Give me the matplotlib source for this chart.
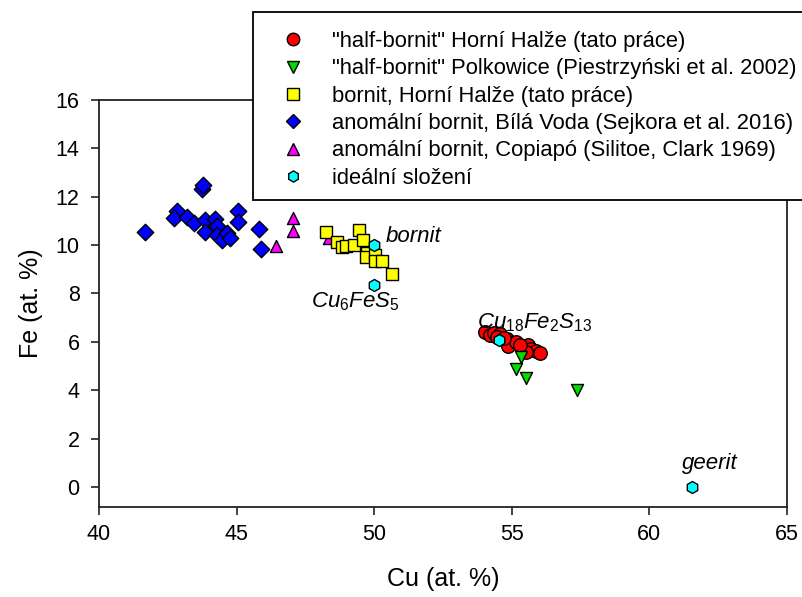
import matplotlib
matplotlib.use("Agg")
import matplotlib.pyplot as plt
from matplotlib.patches import Rectangle
from matplotlib.lines import Line2D

plt.rcParams['font.family'] = ['Liberation Sans', 'DejaVu Sans']
plt.rcParams['mathtext.fontset'] = 'custom'
plt.rcParams['mathtext.it'] = 'Liberation Sans:italic'
plt.rcParams['mathtext.rm'] = 'Liberation Sans'

# "half-bornit" Horní Halže (this work)
red_cu = [54.03, 54.21, 54.35, 54.57, 54.45, 54.81, 54.99, 54.87, 55.15, 55.42, 55.60, 55.69, 55.88, 56.03, 55.52, 55.30, 54.70]
red_fe = [6.40, 6.29, 6.36, 6.32, 6.20, 6.11, 5.94, 5.81, 5.99, 5.77, 5.85, 5.70, 5.62, 5.53, 5.60, 5.85, 6.15]

# "half-bornit" Polkowice
green_cu = [55.32, 55.15, 55.50, 57.36]
green_fe = [5.36, 4.88, 4.52, 3.99]

# bornit, Horní Halže
yel_cu = [48.25, 48.64, 48.82, 48.98, 49.28, 49.45, 49.58, 49.73, 49.69, 50.03, 50.03, 50.27, 50.64]
yel_fe = [10.53, 10.12, 9.94, 9.97, 10.01, 10.63, 10.21, 9.66, 9.50, 9.57, 9.36, 9.36, 8.79]

# anomální bornit, Bílá Voda
blue_cu = [41.67, 43.73, 43.79, 42.82, 42.73, 43.21, 43.46, 43.85, 44.22, 43.85, 44.28, 44.28, 44.46, 44.64, 44.76, 45.04, 45.04, 45.80, 45.88]
blue_fe = [10.56, 12.31, 12.49, 11.42, 11.11, 11.18, 10.90, 11.04, 11.07, 10.56, 10.77, 10.42, 10.21, 10.52, 10.29, 11.42, 10.94, 10.67, 9.84]

# anomální bornit, Copiapó
mag_cu = [47.04, 47.04, 46.42, 48.37]
mag_fe = [11.11, 10.60, 9.96, 10.31]

# ideální složení
cyan_cu = [50.00, 50.00, 54.55, 61.54]
cyan_fe = [10.00, 8.33, 6.06, 0.00]

labels = ['"half-bornit" Horní Halže (tato práce)',
          '"half-bornit" Polkowice (Piestrzyński et al. 2002)',
          'bornit, Horní Halže (tato práce)',
          'anomální bornit, Bílá Voda (Sejkora et al. 2016)',
          'anomální bornit, Copiapó (Silitoe, Clark 1969)',
          'ideální složení']

W, H = 803, 597
fig = plt.figure(figsize=(W / 100, H / 100), dpi=100)
ax = fig.add_axes([99 / W, 1 - 507 / H, (787 - 99) / W, (507 - 100) / H])

ax.scatter(blue_cu, blue_fe, marker='D', s=70, c='#0000ff', edgecolors='black', linewidths=1, zorder=3)
ax.scatter(mag_cu, mag_fe, marker='^', s=75, c='#ff00ff', edgecolors='black', linewidths=1, zorder=3)
ax.scatter(yel_cu, yel_fe, marker='s', s=75, c='#ffff00', edgecolors='black', linewidths=1, zorder=3)
ax.scatter(red_cu, red_fe, marker='o', s=95, c='#ff0000', edgecolors='black', linewidths=1, zorder=3)
ax.scatter(green_cu, green_fe, marker='v', s=75, c='#00dd00', edgecolors='black', linewidths=1, zorder=3)
ax.scatter(cyan_cu, cyan_fe, marker='h', s=75, c='#00ffff', edgecolors='black', linewidths=1, zorder=4)

ax.set_xlim(40, 65)
ax.set_ylim(-0.83, 16)
ax.set_xticks([40, 45, 50, 55, 60, 65])
ax.set_yticks([0, 2, 4, 6, 8, 10, 12, 14, 16])
ax.tick_params(direction='out', length=6, width=1.2, labelsize=15.5, color='#222222')
ax.tick_params(axis='x', pad=6)
ax.tick_params(axis='y', pad=8)
for sp in ax.spines.values():
    sp.set_linewidth(1.3)
    sp.set_color('#222222')
ax.set_xlabel('Cu (at. %)', fontsize=18, labelpad=16)
ax.set_ylabel('Fe (at. %)', fontsize=18, labelpad=9)

tfs = 16
ax.text(50.4, 10.35, 'bornit', fontsize=tfs, style='italic', va='center', ha='left')
ax.text(49.3, 7.65, r'$\mathit{Cu_6FeS_5}$', fontsize=tfs, va='center', ha='center')
ax.text(55.84, 6.8, r'$\mathit{Cu_{18}Fe_2S_{13}}$', fontsize=tfs, va='center', ha='center')
ax.text(62.2, 0.95, 'geerit', fontsize=tfs, style='italic', va='center', ha='center')

# legend frame
fig.patches.append(Rectangle((253 / W, 1 - 200 / H), (W + 20 - 253) / W, (200 - 12) / H,
                             transform=fig.transFigure, facecolor='white', edgecolor='black',
                             linewidth=1.3, zorder=5))
handles = [
    Line2D([], [], ls='none', marker='o', markersize=9, mfc='#ff0000', mec='black', mew=1),
    Line2D([], [], ls='none', marker='v', markersize=8, mfc='#00dd00', mec='black', mew=1),
    Line2D([], [], ls='none', marker='s', markersize=8, mfc='#ffff00', mec='black', mew=1),
    Line2D([], [], ls='none', marker='D', markersize=7.5, mfc='#0000ff', mec='black', mew=1),
    Line2D([], [], ls='none', marker='^', markersize=8, mfc='#ff00ff', mec='black', mew=1),
    Line2D([], [], ls='none', marker='h', markersize=8, mfc='#00ffff', mec='black', mew=1),
]
leg = fig.legend(handles, labels, loc='upper left', bbox_to_anchor=(282 / W, 1 - 31 / H),
                 frameon=False, fontsize=15.8, handlelength=1.0, handletextpad=1.28,
                 labelspacing=0.29, borderaxespad=0, borderpad=0)
leg.set_zorder(6)

fig.savefig('out.png', dpi=100)
